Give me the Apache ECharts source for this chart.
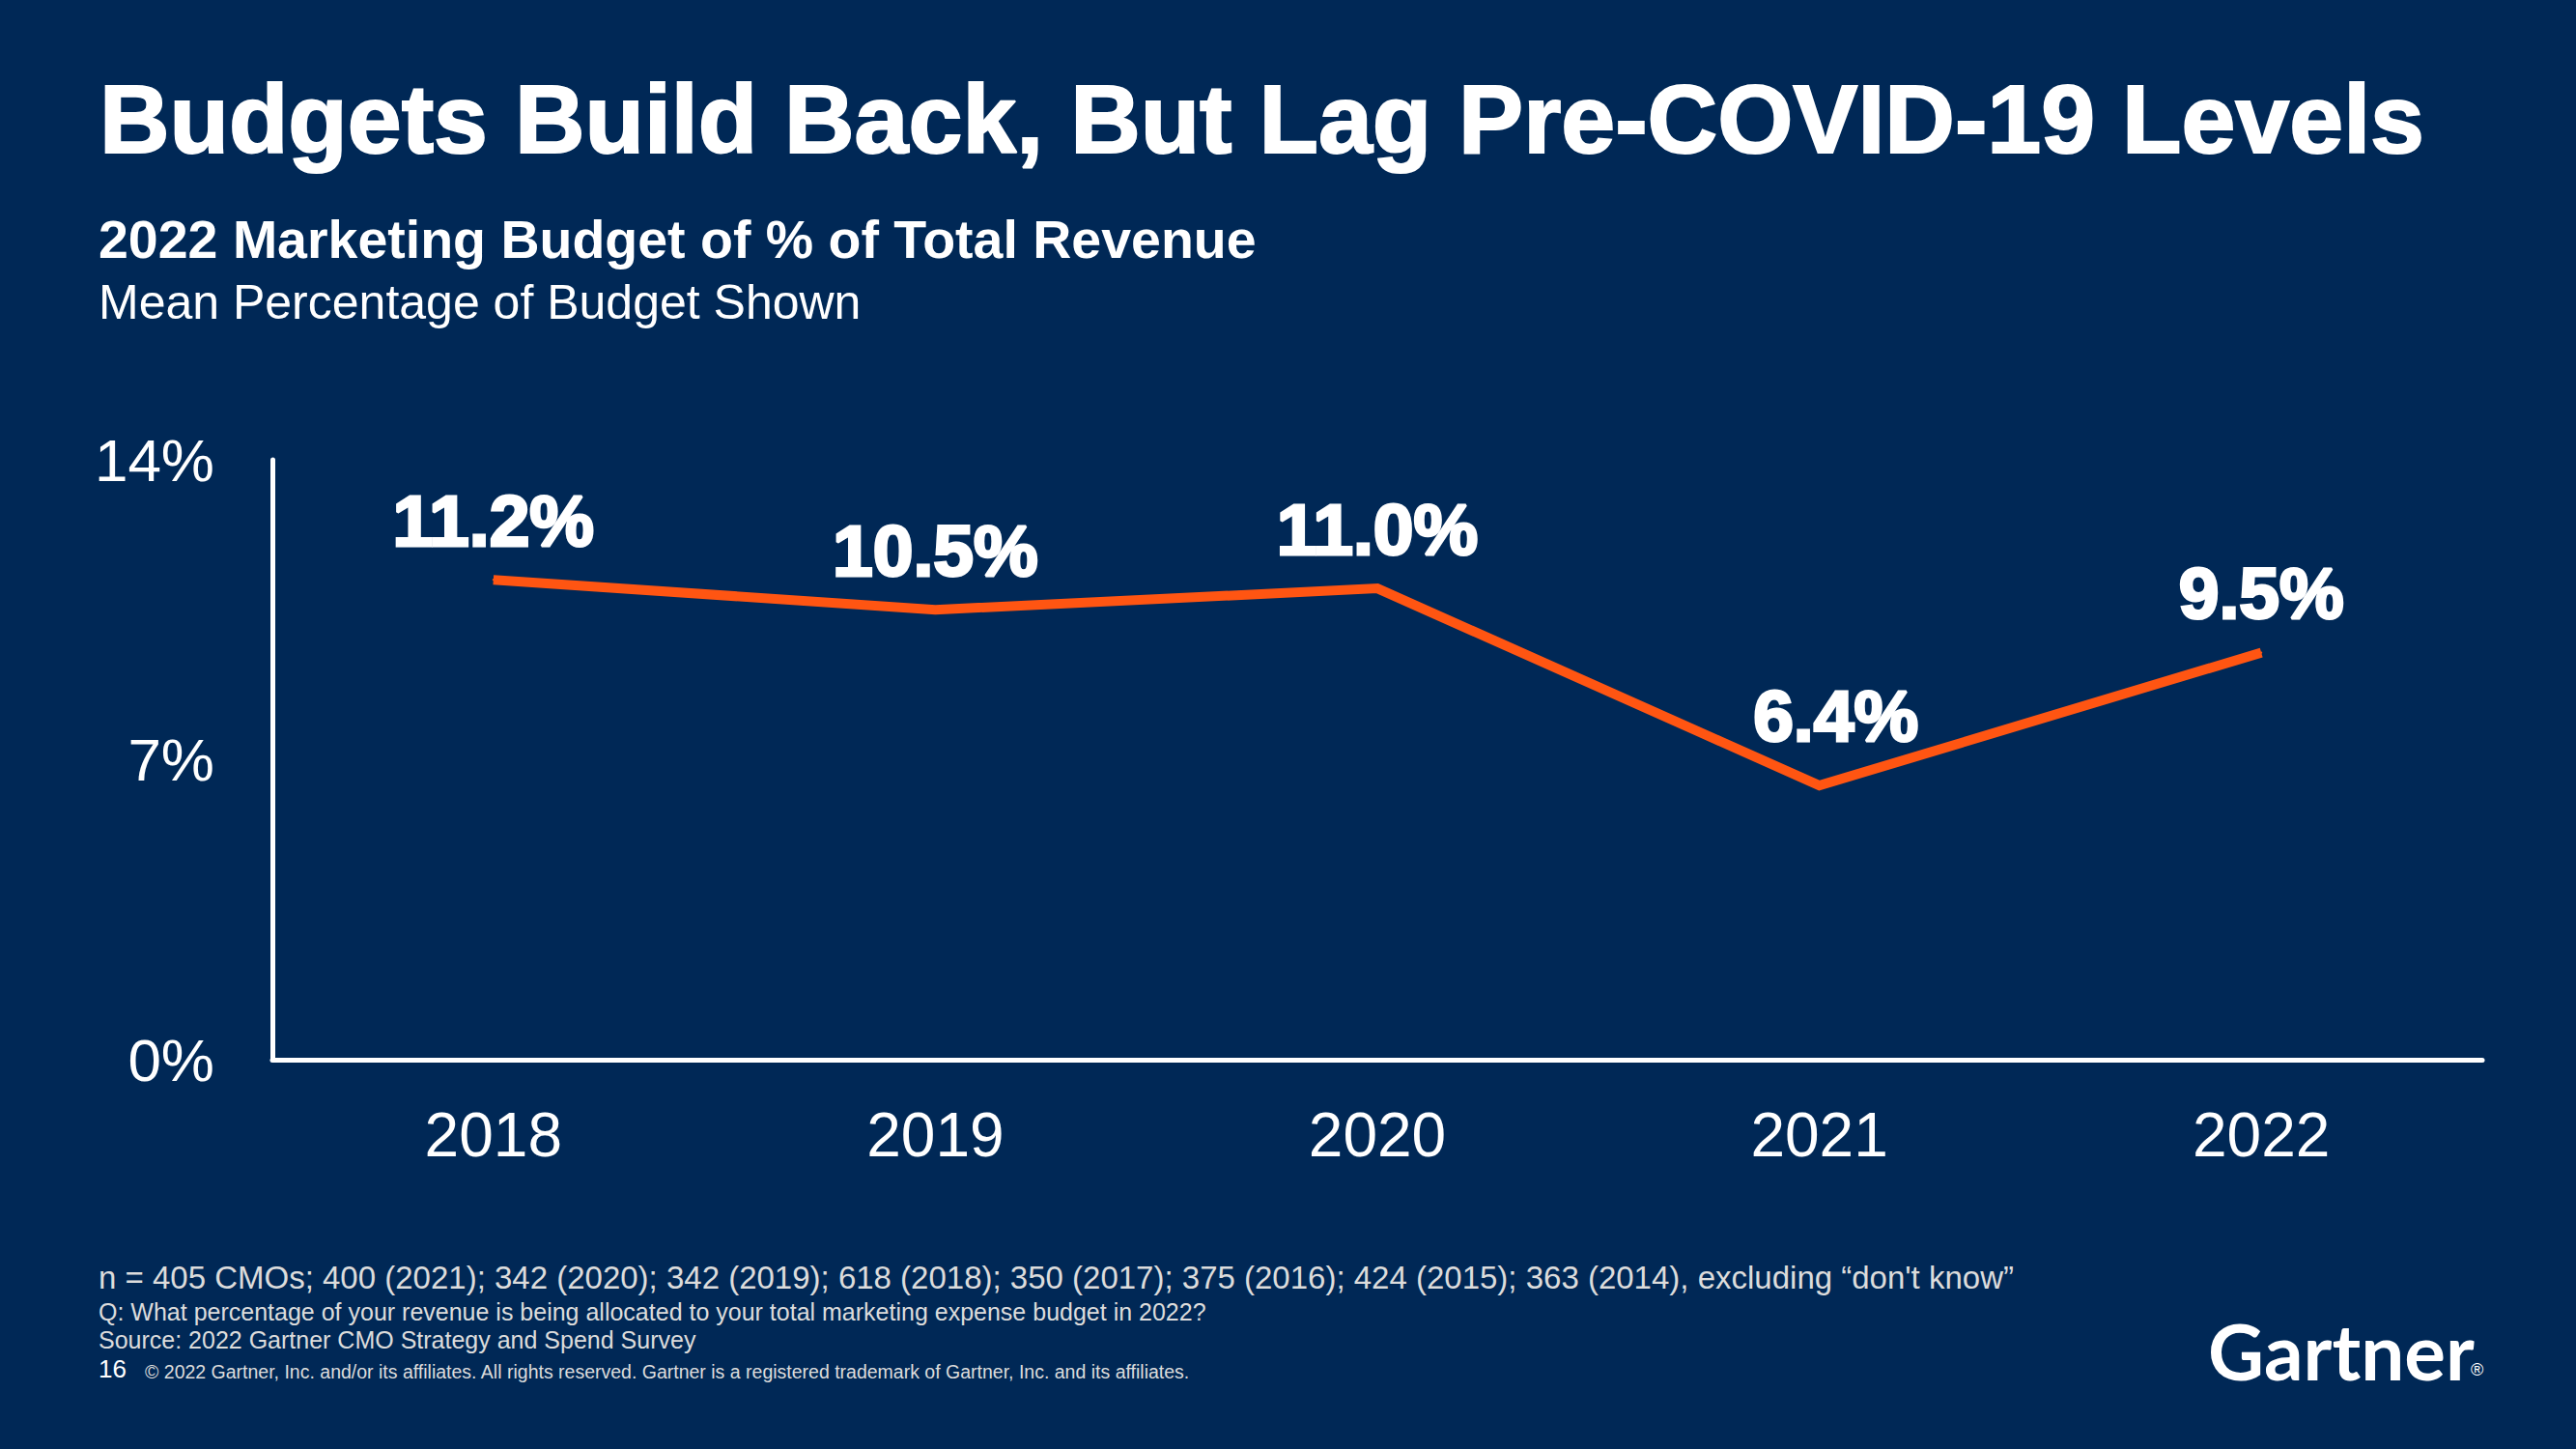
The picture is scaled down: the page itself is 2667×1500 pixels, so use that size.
<!DOCTYPE html>
<html>
<head>
<meta charset="utf-8">
<style>
  html, body { margin: 0; padding: 0; background: #002856; }
  #chart { width: 2667px; height: 1500px; }
</style>
<script src="https://cdn.jsdelivr.net/npm/echarts@6/dist/echarts.min.js"></script>
</head>
<body>
<div id="chart"></div>
<script>
const years = ['2018', '2019', '2020', '2021', '2022'];
const budgetPct = [11.2, 10.5, 11.0, 6.4, 9.5];
const yMin = 0, yMax = 14, yInterval = 7;

const titleText = 'Budgets Build Back, But Lag Pre-COVID-19 Levels';
const subtitleText = '2022 Marketing Budget of % of Total Revenue';
const subtitle2Text = 'Mean Percentage of Budget Shown';
const noteText = 'n = 405 CMOs; 400 (2021); 342 (2020); 342 (2019); 618 (2018); 350 (2017); 375 (2016); 424 (2015); 363 (2014), excluding \u201cdon\'t know\u201d';
const questionText = 'Q: What percentage of your revenue is being allocated to your total marketing expense budget in 2022?';
const sourceText = 'Source: 2022 Gartner CMO Strategy and Spend Survey';
const pageText = '16';
const copyrightText = '\u00a9 2022 Gartner, Inc. and/or its affiliates. All rights reserved. Gartner is a registered trademark of Gartner, Inc. and its affiliates.';

const FONT = '"Liberation Sans", Arial, sans-serif';
const chart = echarts.init(document.getElementById('chart'), null, { renderer: 'svg' });

const seriesData = budgetPct.map((v, i) => {
  const item = { value: v };
  if (years[i] === '2021') {
    item.label = { distance: 34, offset: [17, 0] };
  }
  return item;
});

// centre-positioned text helper: top = centreY - size/2
function txt(x, cy, text, size, weight, color, family, border) {
  const style = { text: text, fill: color, font: weight + ' ' + size + 'px ' + (family || FONT) };
  if (border) { style.stroke = color; style.lineWidth = border; }
  return { type: 'text', left: x, top: Math.round(cy - size / 2), style: style };
}

chart.setOption({
  backgroundColor: '#002856',
  animation: false,
  grid: { left: 282, right: 97, top: 476, bottom: 403, containLabel: false },
  xAxis: {
    type: 'category',
    data: years,
    boundaryGap: true,
    axisLine: { show: true, lineStyle: { color: '#ffffff', width: 5 } },
    axisTick: { show: false },
    axisLabel: { color: '#ffffff', fontSize: 64, fontFamily: FONT, margin: 46 },
    splitLine: { show: false }
  },
  yAxis: {
    type: 'value',
    min: yMin, max: yMax, interval: yInterval,
    axisLine: { show: true, lineStyle: { color: '#ffffff', width: 5 } },
    axisTick: { show: false },
    axisLabel: { color: '#ffffff', fontSize: 62, fontFamily: FONT, margin: 60, formatter: '{value}%' },
    splitLine: { show: false }
  },
  series: [{
    type: 'line',
    data: seriesData,
    showSymbol: true,
    symbol: 'circle',
    symbolSize: 2,
    itemStyle: { color: '#FF5512' },
    lineStyle: { color: '#FF5512', width: 10, cap: 'butt', join: 'miter' },
    label: {
      show: true, position: 'top', distance: 23,
      color: '#ffffff', fontSize: 75, fontWeight: 'bold', fontFamily: FONT,
      textBorderColor: '#ffffff', textBorderWidth: 3,
      formatter: p => p.value.toFixed(1) + '%'
    }
  }],
  graphic: [
    txt(102, 121, titleText, 100.5, 'bold', '#ffffff', null, 2),
    txt(102, 248, subtitleText, 55.5, 'bold', '#ffffff'),
    txt(102, 313, subtitle2Text, 50, 'normal', '#ffffff'),
    txt(102, 1322, noteText, 33, 'normal', '#DCDCDC'),
    txt(102, 1357, questionText, 25, 'normal', '#DCDCDC'),
    txt(102, 1386, sourceText, 25, 'normal', '#DCDCDC'),
    txt(102, 1417, pageText, 26, 'normal', '#ffffff'),
    txt(150, 1420, copyrightText, 19.5, 'normal', '#DCDCDC'),
    txt(2286, 1398, 'Gartner', 80, 'bold', '#ffffff', 'Lato, "Noto Sans", sans-serif'),
    txt(2558, 1418, '\u00ae', 18, 'normal', '#ffffff')
  ]
});
</script>
</body>
</html>
